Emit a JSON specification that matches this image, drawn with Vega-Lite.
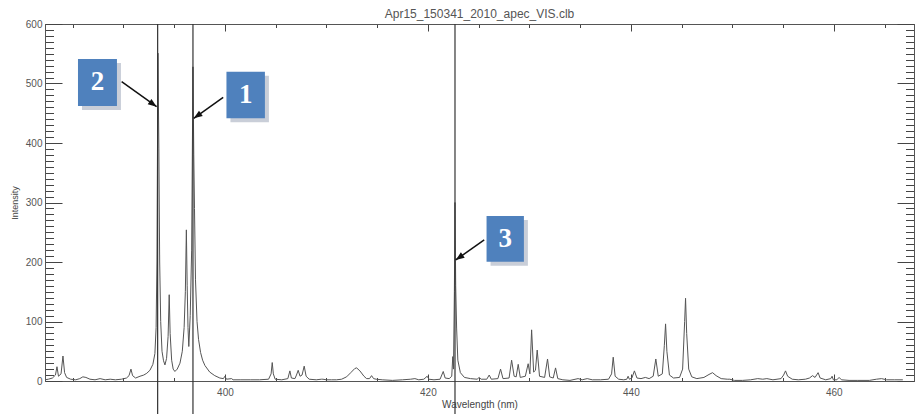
{
  "$schema": "https://vega.github.io/schema/vega-lite/v6.json",
  "width": 869,
  "height": 357,
  "autosize": "none",
  "padding": {"left": 45, "top": 24, "right": 2, "bottom": 33},
  "background": "white",
  "title": {"text": "Apr15_150341_2010_apec_VIS.clb", "fontSize": 12, "font": "Liberation Sans", "fontWeight": "normal", "color": "#555", "offset": -2, "anchor": "middle"},
  "config": {
    "view": {"stroke": "#555", "strokeWidth": 1},
    "axis": {"domainColor": "#555", "tickColor": "#444", "tickWidth": 1, "labelColor": "#555", "labelFont": "Liberation Sans", "labelFontSize": 10, "titleFont": "Liberation Sans", "titleColor": "#444", "titleFontWeight": "normal", "grid": false}
  },
  "datasets": {
    "spectrum": [
      {"wl": 382.27, "i": 2}, {"wl": 382.6, "i": 3}, {"wl": 383.0, "i": 5}, {"wl": 383.3, "i": 10}, {"wl": 383.45, "i": 24}, {"wl": 383.6, "i": 8}, {"wl": 383.85, "i": 12}, {"wl": 384.04, "i": 42}, {"wl": 384.2, "i": 14}, {"wl": 384.4, "i": 6}, {"wl": 384.8, "i": 3}, {"wl": 385.3, "i": 2}, {"wl": 385.7, "i": 4}, {"wl": 386.0, "i": 7}, {"wl": 386.3, "i": 6}, {"wl": 386.7, "i": 3}, {"wl": 387.2, "i": 2}, {"wl": 387.7, "i": 4}, {"wl": 388.2, "i": 2}, {"wl": 388.7, "i": 3}, {"wl": 389.2, "i": 2}, {"wl": 389.8, "i": 3}, {"wl": 390.3, "i": 5}, {"wl": 390.55, "i": 9}, {"wl": 390.74, "i": 20}, {"wl": 390.9, "i": 9}, {"wl": 391.2, "i": 5}, {"wl": 391.63, "i": 8}, {"wl": 392.0, "i": 10}, {"wl": 392.3, "i": 13}, {"wl": 392.61, "i": 18}, {"wl": 392.9, "i": 28}, {"wl": 393.1, "i": 46}, {"wl": 393.22, "i": 90}, {"wl": 393.3, "i": 200}, {"wl": 393.4, "i": 551}, {"wl": 393.49, "i": 390}, {"wl": 393.57, "i": 200}, {"wl": 393.67, "i": 100}, {"wl": 393.8, "i": 50}, {"wl": 393.95, "i": 34}, {"wl": 394.09, "i": 27}, {"wl": 394.25, "i": 38}, {"wl": 394.4, "i": 75}, {"wl": 394.51, "i": 145}, {"wl": 394.6, "i": 80}, {"wl": 394.75, "i": 35}, {"wl": 394.9, "i": 20}, {"wl": 395.07, "i": 16}, {"wl": 395.3, "i": 20}, {"wl": 395.57, "i": 30}, {"wl": 395.8, "i": 50}, {"wl": 395.98, "i": 90}, {"wl": 396.1, "i": 150}, {"wl": 396.2, "i": 254}, {"wl": 396.28, "i": 160}, {"wl": 396.36, "i": 90}, {"wl": 396.44, "i": 58}, {"wl": 396.58, "i": 110}, {"wl": 396.72, "i": 220}, {"wl": 396.85, "i": 528}, {"wl": 396.93, "i": 380}, {"wl": 397.0, "i": 290}, {"wl": 397.1, "i": 170}, {"wl": 397.25, "i": 100}, {"wl": 397.4, "i": 70}, {"wl": 397.6, "i": 48}, {"wl": 397.8, "i": 35}, {"wl": 398.03, "i": 26}, {"wl": 398.5, "i": 15}, {"wl": 399.0, "i": 9}, {"wl": 399.5, "i": 5}, {"wl": 399.85, "i": 4}, {"wl": 400.0, "i": 8}, {"wl": 400.15, "i": 3}, {"wl": 400.66, "i": 4}, {"wl": 400.8, "i": 2}, {"wl": 401.5, "i": 2}, {"wl": 402.5, "i": 2}, {"wl": 403.4, "i": 2}, {"wl": 404.3, "i": 3}, {"wl": 404.55, "i": 12}, {"wl": 404.66, "i": 31}, {"wl": 404.77, "i": 12}, {"wl": 404.95, "i": 3}, {"wl": 405.6, "i": 2}, {"wl": 406.2, "i": 4}, {"wl": 406.4, "i": 17}, {"wl": 406.55, "i": 5}, {"wl": 406.9, "i": 4}, {"wl": 407.05, "i": 10}, {"wl": 407.22, "i": 18}, {"wl": 407.4, "i": 8}, {"wl": 407.6, "i": 10}, {"wl": 407.81, "i": 25}, {"wl": 408.0, "i": 8}, {"wl": 408.3, "i": 3}, {"wl": 409.0, "i": 2}, {"wl": 409.5, "i": 3}, {"wl": 409.66, "i": 3}, {"wl": 410.0, "i": 2}, {"wl": 410.5, "i": 2}, {"wl": 411.0, "i": 2}, {"wl": 411.5, "i": 3}, {"wl": 411.99, "i": 7}, {"wl": 412.4, "i": 14}, {"wl": 412.8, "i": 21}, {"wl": 412.98, "i": 22}, {"wl": 413.3, "i": 17}, {"wl": 413.7, "i": 8}, {"wl": 413.96, "i": 4}, {"wl": 414.25, "i": 4}, {"wl": 414.45, "i": 9}, {"wl": 414.65, "i": 4}, {"wl": 414.9, "i": 3}, {"wl": 415.5, "i": 2}, {"wl": 416.5, "i": 1}, {"wl": 417.5, "i": 2}, {"wl": 418.3, "i": 3}, {"wl": 418.72, "i": 4}, {"wl": 419.1, "i": 2}, {"wl": 419.6, "i": 3}, {"wl": 419.93, "i": 8}, {"wl": 420.1, "i": 3}, {"wl": 420.6, "i": 2}, {"wl": 421.2, "i": 3}, {"wl": 421.51, "i": 16}, {"wl": 421.7, "i": 5}, {"wl": 422.1, "i": 4}, {"wl": 422.35, "i": 8}, {"wl": 422.45, "i": 41}, {"wl": 422.52, "i": 20}, {"wl": 422.61, "i": 150}, {"wl": 422.67, "i": 300}, {"wl": 422.74, "i": 160}, {"wl": 422.83, "i": 89}, {"wl": 422.95, "i": 35}, {"wl": 423.2, "i": 14}, {"wl": 423.6, "i": 6}, {"wl": 424.2, "i": 4}, {"wl": 424.85, "i": 3}, {"wl": 425.05, "i": 6}, {"wl": 425.25, "i": 3}, {"wl": 425.8, "i": 3}, {"wl": 426.04, "i": 10}, {"wl": 426.25, "i": 3}, {"wl": 426.9, "i": 4}, {"wl": 427.16, "i": 20}, {"wl": 427.4, "i": 4}, {"wl": 428.0, "i": 5}, {"wl": 428.25, "i": 35}, {"wl": 428.5, "i": 8}, {"wl": 428.7, "i": 7}, {"wl": 428.9, "i": 28}, {"wl": 429.1, "i": 6}, {"wl": 429.6, "i": 8}, {"wl": 429.88, "i": 29}, {"wl": 430.05, "i": 12}, {"wl": 430.22, "i": 86}, {"wl": 430.42, "i": 15}, {"wl": 430.6, "i": 18}, {"wl": 430.77, "i": 52}, {"wl": 431.0, "i": 8}, {"wl": 431.5, "i": 6}, {"wl": 431.79, "i": 37}, {"wl": 432.0, "i": 7}, {"wl": 432.35, "i": 5}, {"wl": 432.58, "i": 22}, {"wl": 432.8, "i": 4}, {"wl": 433.3, "i": 2}, {"wl": 434.0, "i": 1}, {"wl": 434.8, "i": 4}, {"wl": 435.2, "i": 2}, {"wl": 435.7, "i": 4}, {"wl": 436.2, "i": 2}, {"wl": 437.0, "i": 2}, {"wl": 437.8, "i": 3}, {"wl": 438.1, "i": 12}, {"wl": 438.26, "i": 40}, {"wl": 438.45, "i": 8}, {"wl": 438.8, "i": 3}, {"wl": 439.3, "i": 2}, {"wl": 439.6, "i": 3}, {"wl": 439.73, "i": 8}, {"wl": 439.85, "i": 3}, {"wl": 440.1, "i": 5}, {"wl": 440.35, "i": 17}, {"wl": 440.6, "i": 5}, {"wl": 441.0, "i": 4}, {"wl": 441.43, "i": 6}, {"wl": 441.8, "i": 4}, {"wl": 442.2, "i": 8}, {"wl": 442.46, "i": 37}, {"wl": 442.7, "i": 8}, {"wl": 443.1, "i": 12}, {"wl": 443.3, "i": 60}, {"wl": 443.42, "i": 96}, {"wl": 443.55, "i": 50}, {"wl": 443.8, "i": 10}, {"wl": 444.2, "i": 5}, {"wl": 444.8, "i": 6}, {"wl": 445.1, "i": 20}, {"wl": 445.3, "i": 100}, {"wl": 445.39, "i": 139}, {"wl": 445.5, "i": 80}, {"wl": 445.7, "i": 20}, {"wl": 446.0, "i": 7}, {"wl": 446.5, "i": 4}, {"wl": 447.2, "i": 6}, {"wl": 447.7, "i": 11}, {"wl": 448.05, "i": 14}, {"wl": 448.4, "i": 9}, {"wl": 448.9, "i": 4}, {"wl": 449.5, "i": 3}, {"wl": 449.75, "i": 3}, {"wl": 450.2, "i": 1}, {"wl": 451.0, "i": 1}, {"wl": 451.8, "i": 2}, {"wl": 452.5, "i": 4}, {"wl": 453.0, "i": 3}, {"wl": 453.4, "i": 4}, {"wl": 454.0, "i": 2}, {"wl": 454.8, "i": 4}, {"wl": 455.05, "i": 10}, {"wl": 455.24, "i": 17}, {"wl": 455.45, "i": 8}, {"wl": 455.9, "i": 3}, {"wl": 456.5, "i": 2}, {"wl": 457.2, "i": 3}, {"wl": 457.6, "i": 5}, {"wl": 457.9, "i": 9}, {"wl": 458.15, "i": 6}, {"wl": 458.45, "i": 14}, {"wl": 458.65, "i": 5}, {"wl": 459.2, "i": 2}, {"wl": 459.7, "i": 4}, {"wl": 459.83, "i": 8}, {"wl": 459.95, "i": 2}, {"wl": 460.3, "i": 2}, {"wl": 460.52, "i": 6}, {"wl": 460.75, "i": 2}, {"wl": 461.5, "i": 1}, {"wl": 462.3, "i": 1}, {"wl": 463.5, "i": 1}, {"wl": 464.2, "i": 3}, {"wl": 464.7, "i": 4}, {"wl": 465.2, "i": 2}, {"wl": 466.0, "i": 2}, {"wl": 466.8, "i": 2}
    ],
    "lines": [
      {"line": "Ca II K", "wl": 393.37},
      {"line": "Ca II H", "wl": 396.85},
      {"line": "Ca I", "wl": 422.67}
    ],
    "notes": [
      {"label": "2", "bx": 385.52, "bx2": 389.36, "by": 462.2, "by2": 541.2, "cx": 387.44, "cy": 501.7, "ax": 389.82, "ay": 503.0, "tx": 393.27, "ty": 461.0},
      {"label": "1", "bx": 400.15, "bx2": 403.94, "by": 441.5, "by2": 519.8, "cx": 402.05, "cy": 480.7, "ax": 399.83, "ay": 476.8, "tx": 396.93, "ty": 441.5},
      {"label": "3", "bx": 425.78, "bx2": 429.46, "by": 200.5, "by2": 277.3, "cx": 427.62, "cy": 238.9, "ax": 425.55, "ay": 237.0, "tx": 422.74, "ty": 203.4}
    ]
  },
  "layer": [
    {
      "data": {"name": "spectrum"},
      "mark": {"type": "line", "color": "#555", "strokeWidth": 1},
      "encoding": {
        "x": {"field": "wl", "type": "quantitative", "scale": {"domain": [382.27, 467.9], "nice": false, "zero": false},
          "axis": {"orient": "bottom", "values": [385, 390, 395, 400, 405, 410, 415, 420, 425, 430, 435, 440, 445, 450, 455, 460, 465],
            "tickSize": {"condition": {"test": "datum.value % 20 === 0", "value": -7}, "value": -3.5},
            "labelExpr": "datum.value % 20 === 0 ? datum.label : ''", "labelPadding": 13, "labelFlush": false,
            "title": "Wavelength (nm)", "titleFontSize": 10, "titlePadding": 2}},
        "y": {"field": "i", "type": "quantitative", "scale": {"domain": [0, 600], "nice": false},
          "axis": {"orient": "left", "values": [0, 10, 20, 30, 40, 50, 60, 70, 80, 90, 100, 110, 120, 130, 140, 150, 160, 170, 180, 190, 200, 210, 220, 230, 240, 250, 260, 270, 280, 290, 300, 310, 320, 330, 340, 350, 360, 370, 380, 390, 400, 410, 420, 430, 440, 450, 460, 470, 480, 490, 500, 510, 520, 530, 540, 550, 560, 570, 580, 590, 600],
            "tickSize": {"condition": {"test": "datum.value % 100 === 0", "value": -17}, "value": -8.5},
            "labelExpr": "datum.value % 100 === 0 ? datum.label : ''", "labelPadding": 20, "labelFlush": false,
            "title": "Intensity", "titleFontSize": 9, "titlePadding": 6}}
      }
    },
    {
      "data": {"name": "lines"},
      "mark": {"type": "rule", "color": "#333", "strokeWidth": 1.2},
      "encoding": {
        "x": {"field": "wl", "type": "quantitative", "scale": {"domain": [382.27, 467.9], "nice": false, "zero": false},
          "axis": {"orient": "top", "values": [385, 390, 395, 400, 405, 410, 415, 420, 425, 430, 435, 440, 445, 450, 455, 460, 465],
            "tickSize": {"condition": {"test": "datum.value % 20 === 0", "value": -7}, "value": -3.5},
            "labels": false, "title": null}},
        "y": {"datum": 600, "type": "quantitative", "scale": {"domain": [0, 600], "nice": false},
          "axis": {"orient": "right", "values": [0, 10, 20, 30, 40, 50, 60, 70, 80, 90, 100, 110, 120, 130, 140, 150, 160, 170, 180, 190, 200, 210, 220, 230, 240, 250, 260, 270, 280, 290, 300, 310, 320, 330, 340, 350, 360, 370, 380, 390, 400, 410, 420, 430, 440, 450, 460, 470, 480, 490, 500, 510, 520, 530, 540, 550, 560, 570, 580, 590, 600],
            "tickSize": {"condition": {"test": "datum.value % 100 === 0", "value": -17}, "value": -8.5},
            "labels": false, "title": null}},
        "y2": {"datum": -60}
      }
    },
    {
      "data": {"name": "notes"},
      "mark": {"type": "rule", "color": "#111", "strokeWidth": 1.5},
      "encoding": {
        "x": {"field": "ax", "type": "quantitative", "axis": null},
        "y": {"field": "ay", "type": "quantitative", "axis": null},
        "x2": {"field": "tx"},
        "y2": {"field": "ty"}
      }
    },
    {
      "data": {"name": "notes"},
      "mark": {"type": "point", "shape": "M0,0L-0.38,1L0.38,1Z", "filled": true, "color": "#111", "opacity": 1, "size": 300},
      "encoding": {
        "x": {"field": "tx", "type": "quantitative", "axis": null},
        "y": {"field": "ty", "type": "quantitative", "axis": null},
        "angle": {"condition": {"test": "datum.label === '2'", "value": 125.5}, "value": 235}
      }
    },
    {
      "data": {"name": "notes"},
      "mark": {"type": "rect", "color": "#c9ced8", "xOffset": 4, "x2Offset": 4, "yOffset": 4, "y2Offset": 4},
      "encoding": {
        "x": {"field": "bx", "type": "quantitative", "axis": null},
        "x2": {"field": "bx2"},
        "y": {"field": "by", "type": "quantitative", "axis": null},
        "y2": {"field": "by2"}
      }
    },
    {
      "data": {"name": "notes"},
      "mark": {"type": "rect", "color": "#4f81bd"},
      "encoding": {
        "x": {"field": "bx", "type": "quantitative", "axis": null},
        "x2": {"field": "bx2"},
        "y": {"field": "by", "type": "quantitative", "axis": null},
        "y2": {"field": "by2"}
      }
    },
    {
      "data": {"name": "notes"},
      "mark": {"type": "text", "color": "white", "font": "Liberation Serif", "fontSize": 27, "fontWeight": "bold", "align": "center", "baseline": "middle"},
      "encoding": {
        "x": {"field": "cx", "type": "quantitative", "axis": null},
        "y": {"field": "cy", "type": "quantitative", "axis": null},
        "text": {"field": "label"}
      }
    }
  ],
  "resolve": {"axis": {"x": "independent", "y": "independent"}}
}
